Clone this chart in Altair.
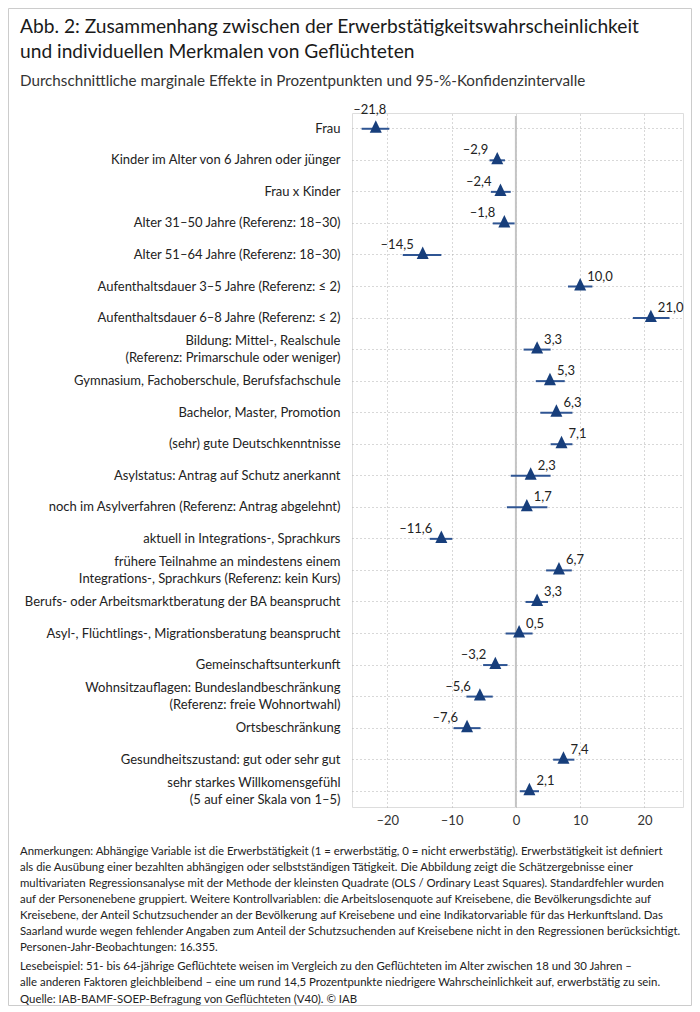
import altair as alt
import pandas as pd

FONT = "Lato"

categories = [
    "Frau",
    "Kinder im Alter von 6 Jahren oder jünger",
    "Frau x Kinder",
    "Alter 31–50 Jahre (Referenz: 18–30)",
    "Alter 51–64 Jahre (Referenz: 18–30)",
    "Aufenthaltsdauer 3–5 Jahre (Referenz: ≤ 2)",
    "Aufenthaltsdauer 6–8 Jahre (Referenz: ≤ 2)",
    "Bildung: Mittel-, Realschule\n(Referenz: Primarschule oder weniger)",
    "Gymnasium, Fachoberschule, Berufsfachschule",
    "Bachelor, Master, Promotion",
    "(sehr) gute Deutschkenntnisse",
    "Asylstatus: Antrag auf Schutz anerkannt",
    "noch im Asylverfahren (Referenz: Antrag abgelehnt)",
    "aktuell in Integrations-, Sprachkurs",
    "frühere Teilnahme an mindestens einem\nIntegrations-, Sprachkurs (Referenz: kein Kurs)",
    "Berufs- oder Arbeitsmarktberatung der BA beansprucht",
    "Asyl-, Flüchtlings-, Migrationsberatung beansprucht",
    "Gemeinschaftsunterkunft",
    "Wohnsitzauflagen: Bundeslandbeschränkung\n(Referenz: freie Wohnortwahl)",
    "Ortsbeschränkung",
    "Gesundheitszustand: gut oder sehr gut",
    "sehr starkes Willkomensgefühl\n(5 auf einer Skala von 1–5)",
]
values = [-21.8, -2.9, -2.4, -1.8, -14.5, 10.0, 21.0, 3.3, 5.3, 6.3, 7.1,
          2.3, 1.7, -11.6, 6.7, 3.3, 0.5, -3.2, -5.6, -7.6, 7.4, 2.1]
ci_low = [-24.0, -4.1, -3.9, -3.6, -17.6, 8.1, 18.2, 1.2, 3.1, 3.8, 5.4,
          -0.8, -1.4, -13.4, 4.7, 1.5, -1.6, -5.1, -7.7, -9.7, 5.8, 0.6]
ci_high = [-19.7, -1.7, -0.8, -0.2, -11.6, 11.9, 23.9, 5.4, 7.6, 8.8, 8.8,
           5.4, 4.9, -9.9, 8.7, 5.0, 2.6, -1.3, -3.6, -5.5, 9.1, 3.6]
x_ticks = [-20, -10, 0, 10, 20]

title_lines = [
    "Abb. 2: Zusammenhang zwischen der Erwerbstätigkeitswahrscheinlichkeit",
    "und individuellen Merkmalen von Geflüchteten",
]
subtitle = "Durchschnittliche marginale Effekte in Prozentpunkten und 95-%-Konfidenzintervalle"
notes = [
    "Anmerkungen: Abhängige Variable ist die Erwerbstätigkeit (1 = erwerbstätig, 0 = nicht erwerbstätig). Erwerbstätigkeit ist definiert",
    "als die Ausübung einer bezahlten abhängigen oder selbstständigen Tätigkeit. Die Abbildung zeigt die Schätzergebnisse einer",
    "multivariaten Regressionsanalyse mit der Methode der kleinsten Quadrate (OLS / Ordinary Least Squares). Standardfehler wurden",
    "auf der Personenebene gruppiert. Weitere Kontrollvariablen: die Arbeitslosenquote auf Kreisebene, die Bevölkerungsdichte auf",
    "Kreisebene, der Anteil Schutzsuchender an der Bevölkerung auf Kreisebene und eine Indikatorvariable für das Herkunftsland. Das",
    "Saarland wurde wegen fehlender Angaben zum Anteil der Schutzsuchenden auf Kreisebene nicht in den Regressionen berücksichtigt.",
    "Personen-Jahr-Beobachtungen: 16.355.",
]
reading = [
    "Lesebeispiel: 51- bis 64-jährige Geflüchtete weisen im Vergleich zu den Geflüchteten im Alter zwischen 18 und 30 Jahren –",
    "alle anderen Faktoren gleichbleibend – eine um rund 14,5 Prozentpunkte niedrigere Wahrscheinlichkeit auf, erwerbstätig zu sein.",
]
source = "Quelle: IAB-BAMF-SOEP-Befragung von Geflüchteten (V40).  © IAB"

df = pd.DataFrame({"cat": categories, "value": values, "lo": ci_low, "hi": ci_high})

W, H = 331, 694
NAVY = "#173e7b"
BAR = "#2f5593"
GRID = "#b0b0b0"

base = alt.Chart(df).transform_calculate(
    lab="(datum.value < 0 ? '–' : '') + replace(format(abs(datum.value), '.1f'), '.', ',')"
)

xscale = alt.Scale(domain=[-25.5, 26], nice=False, zero=False)
yenc = alt.Y(
    "cat:N",
    sort=categories,
    scale=alt.Scale(paddingInner=0, paddingOuter=0),
    axis=alt.Axis(
        title=None,
        labelExpr="split(datum.value, '\\n')",
        labelFont=FONT,
        labelFontSize=13,
        labelColor="#222222",
        labelPadding=12,
        labelLimit=500,
        labelLineHeight=17,
        labelOffset={"condition": {"test": "indexof(datum.value, '\\n') >= 0", "value": -8.5}, "value": 0},
        ticks=False,
        tickSize=0,
        domain=False,
        grid=True,
        gridColor=GRID,
        gridDash=[1, 3],
        gridWidth=1,
        bandPosition=0.5,
    ),
)
xaxis = alt.Axis(
    values=x_ticks,
    title=None,
    labelExpr="datum.value < 0 ? '–' + abs(datum.value) : '' + datum.value",
    labelFont=FONT,
    labelFontSize=13,
    labelColor="#333333",
    labelPadding=7,
    ticks=False,
    tickSize=0,
    domain=False,
    grid=True,
    gridColor=GRID,
    gridDash=[1, 3],
    gridWidth=1,
)

bars = base.mark_rule(color=BAR, strokeWidth=2).encode(
    x=alt.X("lo:Q", scale=xscale, axis=xaxis),
    x2="hi:Q",
    y=yenc,
)

zero = alt.Chart(alt.Data(values=[{"z": 0}])).mark_rule(
    color="#c4c4c4", strokeWidth=2
).encode(x=alt.X("z:Q", scale=xscale), y=alt.value(3), y2=alt.value(H))

tri = base.mark_point(
    shape="M-1,0.67L0,-1.4L1,0.67Z", filled=True, size=144, color=NAVY, opacity=1
).encode(x=alt.X("value:Q", scale=xscale), y=alt.Y("cat:N", sort=categories))

txt_style = dict(font=FONT, fontSize=13, color="#222222", baseline="middle")
lab_neg = base.transform_filter("datum.value < 0 && datum.cat != 'Frau'").mark_text(
    align="right", dx=-9, dy=-10, **txt_style
).encode(x=alt.X("value:Q", scale=xscale), y=alt.Y("cat:N", sort=categories), text="lab:N")
lab_pos = base.transform_filter("datum.value >= 0").mark_text(
    align="left", dx=7, dy=-10, **txt_style
).encode(x=alt.X("value:Q", scale=xscale), y=alt.Y("cat:N", sort=categories), text="lab:N")
lab_top = base.transform_filter("datum.cat == 'Frau'").mark_text(
    align="center", dx=-6, dy=-19, **txt_style
).encode(x=alt.X("value:Q", scale=xscale), y=alt.Y("cat:N", sort=categories), text="lab:N")


def note(text, x, y, size, color, baseline="alphabetic", lh=16):
    return alt.Chart(alt.Data(values=[{"a": 1}])).mark_text(
        text=text, align="left", baseline=baseline, font=FONT, fontSize=size,
        color=color, lineHeight=lh,
    ).encode(x=alt.value(x), y=alt.value(y))


LX = -332
NS = 11.4
t1 = note(title_lines[0], LX, -80.5, 19.2, "#1a1a1a")
t2 = note(title_lines[1], LX, -55.5, 19.2, "#1a1a1a")
st = note(subtitle, LX, -27, 15.2, "#333333")
n1 = note(notes, LX, 742 - 0.79 * NS, NS, "#222222", baseline="top", lh=16)
n2 = note(reading, LX, 857 - 0.79 * NS, NS, "#222222", baseline="top", lh=16)
n3 = note(source, LX, 890, NS, "#222222")

frame = alt.Chart(alt.Data(values=[{"a": 1}])).mark_rect(
    fill="white", fillOpacity=0, stroke="#cccccc", strokeWidth=1
).encode(x=alt.value(-343.5), x2=alt.value(339.5), y=alt.value(-104.5), y2=alt.value(892.5))

chart = alt.layer(
    frame, zero, bars, tri, lab_neg, lab_pos, lab_top, t1, t2, st, n1, n2, n3
).properties(
    width=W,
    height=H,
    autosize=alt.AutoSizeParams(type="none"),
    padding={"left": 344, "top": 105, "right": 9, "bottom": 199},
).configure_view(stroke=None).configure(background="white")

chart.save("out.html", embed_options={"renderer": "svg", "actions": False})
